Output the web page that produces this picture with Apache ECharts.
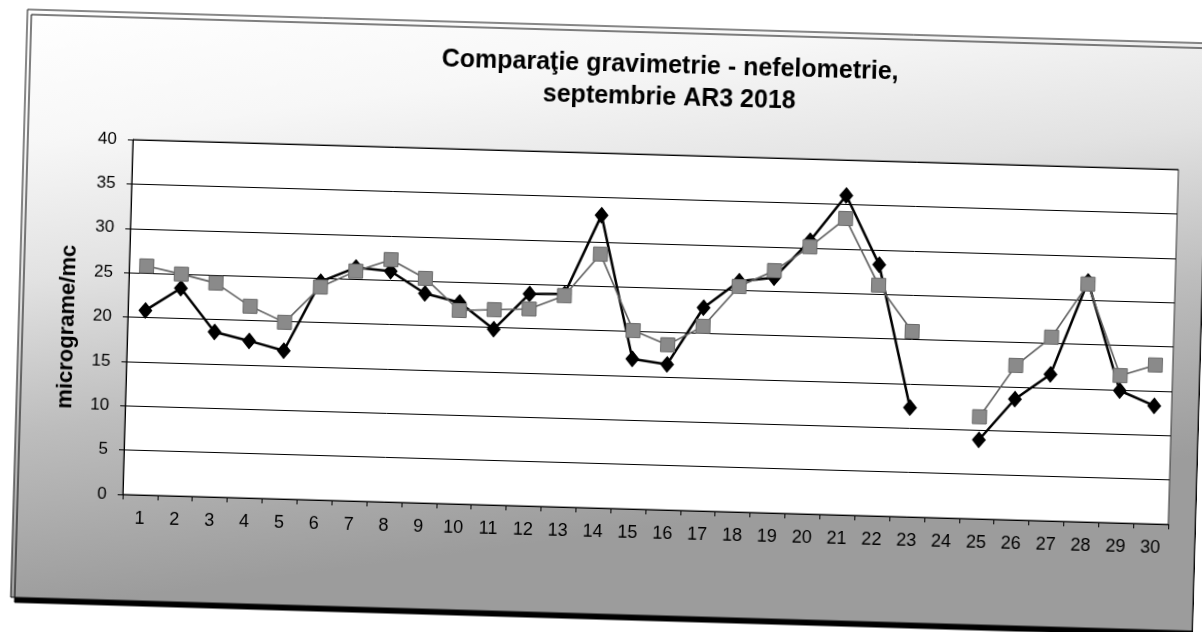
<!DOCTYPE html>
<html>
<head>
<meta charset="utf-8">
<script src="https://cdn.jsdelivr.net/npm/echarts/dist/echarts.min.js"></script>
<style>
html,body{margin:0;padding:0;background:#fff;overflow:hidden;width:1202px;height:632px;}
#chart{position:absolute;left:0;top:0;width:1202px;height:632px;transform:rotate(1.64deg);transform-origin:601px 316px;}
</style>
</head>
<body>
<div id="chart"></div>
<script>
// Days of September
const categories = ['1','2','3','4','5','6','7','8','9','10','11','12','13','14','15','16','17','18','19','20','21','22','23','24','25','26','27','28','29','30'];
// Black line, diamond markers
const gravimetrie = [20.8, 23.4, 18.6, 17.7, 16.7, 24.6, 26.3, 26.0, 23.6, 22.7, 19.8, 23.9, 24.0, 33.0, 16.9, 16.4, 22.9, 26.0, 26.5, 30.8, 36.0, 28.3, 12.3, null, 8.9, 13.6, 16.5, 27.1, 14.9, 13.3];
// Grey line, square markers
const nefelometrie = [25.8, 25.0, 24.1, 21.6, 19.9, 24.0, 25.9, 27.3, 25.3, 21.8, 22.0, 22.2, 23.8, 28.6, 20.1, 18.6, 20.8, 25.4, 27.3, 30.1, 33.4, 26.0, 20.9, null, 11.5, 17.4, 20.7, 26.8, 16.6, 17.9];
// Value axis ticks
const yMin = 0, yMax = 40, yStep = 5;

const FONT = '"Liberation Sans", Arial, sans-serif';
const chart = echarts.init(document.getElementById('chart'), null, {renderer: 'canvas'});

const option = {
  animation: false,
  backgroundColor: 'transparent',
  graphic: [
    {
      type: 'rect', z: -10, silent: true,
      shape: {x: 19, y: 26, width: 1182, height: 588},
      style: {
        fill: new echarts.graphic.LinearGradient(0, 0, 0.08, 1, [
          {offset: 0, color: '#ffffff'},
          {offset: 0.22, color: '#f7f7f7'},
          {offset: 0.45, color: '#e2e2e2'},
          {offset: 0.7, color: '#bdbdbd'},
          {offset: 1, color: '#9c9c9c'}
        ]),
        stroke: '#111', lineWidth: 1,
        shadowColor: '#000', shadowOffsetX: 4, shadowOffsetY: 5, shadowBlur: 0
      }
    },
    {
      type: 'text', z: 10, silent: true,
      x: 67.5, y: 342, rotation: Math.PI / 2,
      style: {
        text: 'micrograme/mc',
        font: 'bold 22px ' + FONT,
        fill: '#000',
        align: 'center', verticalAlign: 'middle'
      }
    }
  ],
  title: {
    text: 'Comparaţie gravimetrie - nefelometrie,\nseptembrie AR3 2018',
    left: 658, top: 43,
    textAlign: 'center',
    textStyle: {fontFamily: FONT, fontWeight: 'bold', fontSize: 25, lineHeight: 32, color: '#000'}
  },
  grid: {
    left: 128, top: 153, width: 1046, height: 355,
    show: true, backgroundColor: '#fff', borderColor: '#333', borderWidth: 1
  },
  xAxis: {
    type: 'category',
    data: categories,
    boundaryGap: true,
    axisLine: {show: true, lineStyle: {color: '#000', width: 1}},
    axisTick: {show: true, interval: 0, length: 5, alignWithLabel: false, lineStyle: {color: '#000'}},
    axisLabel: {interval: 0, margin: 15, fontFamily: FONT, fontSize: 18, color: '#000'},
    splitLine: {show: false}
  },
  yAxis: {
    type: 'value',
    min: yMin, max: yMax, interval: yStep,
    axisLine: {show: true, lineStyle: {color: '#000', width: 1}},
    axisTick: {show: true, length: 5, lineStyle: {color: '#000'}},
    axisLabel: {margin: 16, fontFamily: FONT, fontSize: 17, color: '#000'},
    splitLine: {show: true, lineStyle: {color: '#000', width: 1}}
  },
  series: [
    {
      name: 'gravimetrie', type: 'line', data: gravimetrie,
      connectNulls: false,
      symbol: 'diamond', symbolSize: [14, 17],
      itemStyle: {color: '#000'},
      lineStyle: {color: '#000', width: 2.5},
      z: 3
    },
    {
      name: 'nefelometrie', type: 'line', data: nefelometrie,
      connectNulls: false,
      symbol: 'rect', symbolSize: 14,
      itemStyle: {color: '#8a8a8a', borderColor: '#6a6a6a', borderWidth: 1},
      lineStyle: {color: '#606060', width: 1.6},
      z: 4
    }
  ]
};
chart.setOption(option);
</script>
</body>
</html>
